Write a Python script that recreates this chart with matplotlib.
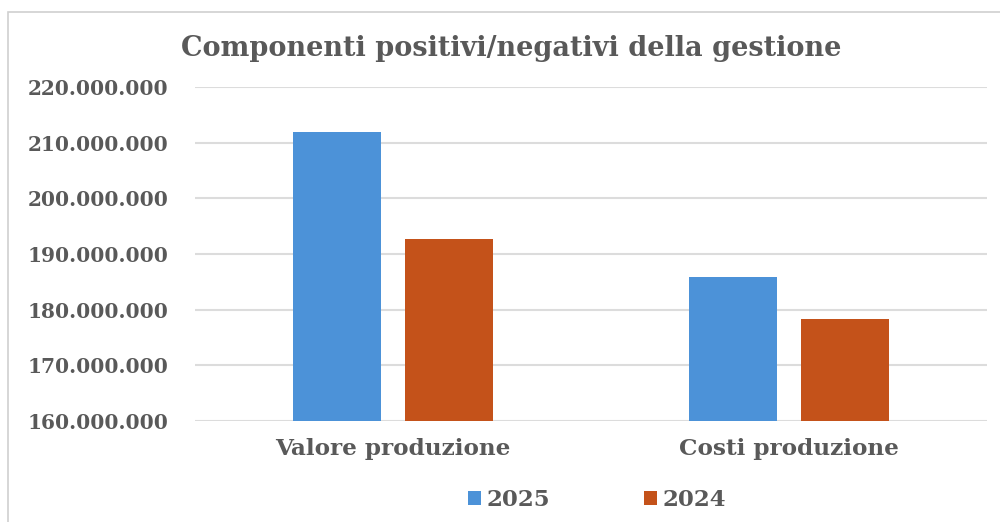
import matplotlib.pyplot as plt
import numpy as np
from matplotlib.patches import Patch, Rectangle
from matplotlib.ticker import FuncFormatter, MultipleLocator

# data
categories = ['Valore produzione', 'Costi produzione']
years = ['2025', '2024']
val_2025 = [211900000, 185900000]
val_2024 = [192700000, 178400000]

colors = ['#4C92D8', '#C4521A']
txt = '#595959'
serif = ['DejaVu Serif']

fig = plt.figure(figsize=(10, 5.22), dpi=100)
ax = fig.add_axes([0.195, 0.1935, 0.792, 0.6398])

x = np.arange(len(categories))
w = 0.222
gap = 0.063
ax.bar(x - (w + gap) / 2, val_2025, w, color=colors[0], zorder=3)
ax.bar(x + (w + gap) / 2, val_2024, w, color=colors[1], zorder=3)

ax.set_xlim(-0.5, 1.5)
ax.set_ylim(160000000, 220000000)
ax.yaxis.set_major_locator(MultipleLocator(10000000))
ax.yaxis.set_major_formatter(FuncFormatter(lambda v, p: f"{int(v):,}".replace(",", ".")))
ax.grid(axis='y', color='#DCDCDC', linewidth=1.5, zorder=0)
for s in ax.spines.values():
    s.set_visible(False)

ax.set_xticks(x)
ax.set_xticklabels(categories)
ax.tick_params(length=0)
ax.tick_params(axis='y', pad=19)
ax.tick_params(axis='x', pad=12)
for lab in ax.get_yticklabels() + ax.get_xticklabels():
    lab.set_family(serif)
    lab.set_fontweight('bold')
    lab.set_color(txt)
for lab in ax.get_yticklabels():
    lab.set_fontsize(14.5)
for lab in ax.get_xticklabels():
    lab.set_fontsize(16.7)

fig.text(0.511, 0.908, 'Componenti positivi/negativi della gestione',
         ha='center', va='center', fontsize=19.5, fontweight='bold',
         family=serif, color=txt)

handles = [Patch(facecolor=colors[0]), Patch(facecolor=colors[1])]
leg = fig.legend(handles, years, loc='center', bbox_to_anchor=(0.597, 0.042),
                 ncol=2, frameon=False, handlelength=0.55, handleheight=0.55,
                 handletextpad=0.25, columnspacing=4.1,
                 prop={'family': serif, 'weight': 'bold', 'size': 16.5})
for t in leg.get_texts():
    t.set_color(txt)

# outer chart frame
fig.patches.append(Rectangle((0.008, -0.05), 1.1, 1.027, transform=fig.transFigure,
                             fill=False, edgecolor='#D0D0D0', linewidth=1.2))

fig.savefig('out.png', dpi=100)
